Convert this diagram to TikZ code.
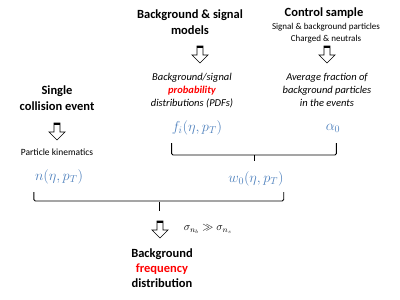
\documentclass[tikz,border=0pt]{standalone}
\usepackage{fontspec}
\setmainfont{Carlito}
\usetikzlibrary{calc,positioning}
\definecolor{mathblue}{RGB}{79,129,189}
\definecolor{keyred}{RGB}{255,0,0}
\tikzset{
  heading/.style={font=\bfseries\fontsize{12.5}{16}\selectfont, align=center, inner sep=0pt},
  note/.style={font=\fontsize{9}{12}\selectfont, align=center, inner sep=0pt},
  remark/.style={font=\itshape\fontsize{10.5}{13}\selectfont, align=center, inner sep=0pt},
  formula/.style={font=\fontsize{14}{16}\selectfont, text=mathblue, inner sep=0pt},
  bracket/.style={line width=0.9pt, rounded corners=1.5pt},
  pics/downarrow/.style={code={
    \draw[line width=0.7pt, line join=miter]
      (-3,0) -- (-3,9) -- (-8,9) -- (0,17) -- (8,9) -- (3,9) -- (3,0) -- cycle;
    \draw[line width=2.2pt] (-3.3,1.1) -- (3.3,1.1);
  }},
}

\begin{document}
\begin{tikzpicture}[x=1pt, y=-1pt]
  \useasboundingbox (0,0) rectangle (400,300);

  % Top row: models and control sample
  \node[heading] (models) at (190,22) {Background \& signal\\models};
  \node[heading] (ctrl) at (324,13) {Control sample};
  \node[note] (ctrlnote) at (326,33) {Signal \& background particles\\Charged \& neutrals};

  \pic at (200,46) {downarrow};
  \pic at (327,46) {downarrow};

  \node[remark] (pdfs) at (192,91)
    {Background/signal\\{\color{keyred}\bfseries probability}\\distributions (PDFs)};
  \node[remark] (frac) at (327,90)
    {Average fraction of\\background particles\\in the events};

  \node[formula] (f) at (197,128) {$f_i(\eta,p_T)$};
  \node[formula] (a0) at (333,128) {$\alpha_0$};

  % Single event column
  \node[heading] (single) at (57,98) {Single\\collision event};
  \pic at (57,123) {downarrow};
  \node[note, font=\fontsize{9.5}{12}\selectfont] (kin) at (57,152) {Particle kinematics};
  \node[formula] (n) at (59,177) {$n(\eta,p_T)$};

  % First bracket -> weight
  \draw[bracket] ($(f.west)+(0,15)$) -- ++(0,12) -| ($(a0.east)+(-4,15)$);
  \draw[bracket] ($(f.west)!0.5!(a0.east)+(-2,27)$) -- ++(0,6);
  \node[formula] (w) at (256,179) {$w_0(\eta,p_T)$};

  % Second bracket -> result
  \draw[bracket] ($(n.west)+(-1,15)$) -- ++(0,9) -| ($(w.east)+(0,13)$);
  \draw[bracket] ($(n.west)!0.5!(w.east)+(0,24)$) -- ++(0,9);
  \pic at (160,221) {downarrow};
  \node[font=\fontsize{11}{13}\selectfont, inner sep=0pt] (sig) at (208,229)
    {$\sigma_{n_b}\gg\sigma_{n_s}$};

  \node[heading, font=\bfseries\fontsize{12.5}{15}\selectfont] (freq) at (162,268)
    {Background\\{\color{keyred}frequency}\\distribution};

\end{tikzpicture}
\end{document}
